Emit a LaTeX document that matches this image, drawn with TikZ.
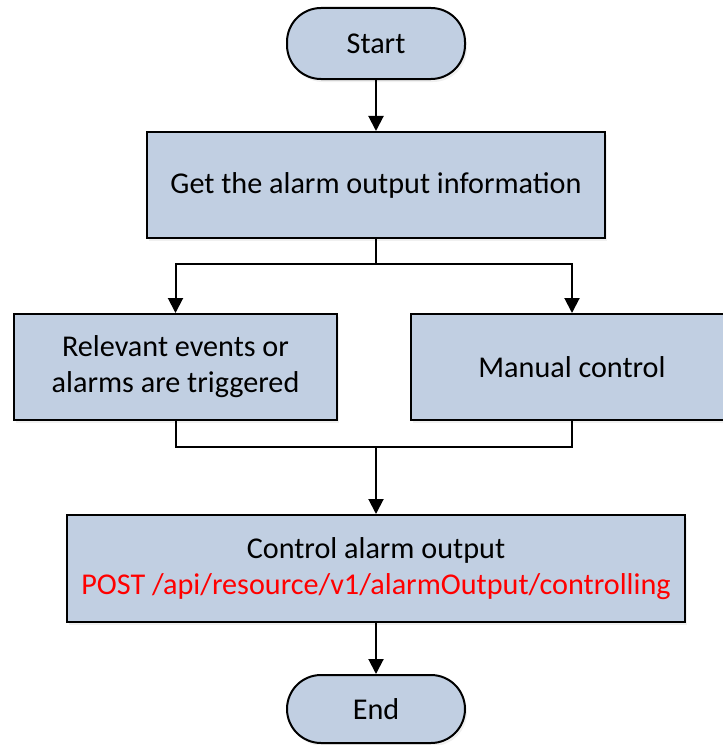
\documentclass[tikz,border=0pt]{standalone}
\usepackage{fontspec}
\setmainfont{Carlito}
\usetikzlibrary{arrows.meta,shadows}
\definecolor{boxfill}{RGB}{193,207,226}
\definecolor{postred}{RGB}{255,0,0}
\begin{document}
\begin{tikzpicture}[x=1bp,y=-1bp,
  every node/.style={font=\fontsize{30.3}{36}\selectfont},
  procbox/.style={draw=black, line width=2bp, fill=boxfill, align=center, inner sep=0pt,
    drop shadow={opacity=0.12, shadow xshift=2bp, shadow yshift=-3bp}},
  termbox/.style={procbox, rounded corners=34bp},
  link/.style={line width=2bp},
  arr/.style={link, -{Triangle[width=15bp,length=15bp]}}]
\useasboundingbox (0,0) rectangle (723,745);

\node[termbox, minimum width=178bp, minimum height=71bp] (start) at (376,43.5) {Start};
\node[procbox, minimum width=458bp, minimum height=106bp] (get) at (376,185) {Get the alarm output information};
\node[procbox, minimum width=323bp, minimum height=106bp] (events) at (175.5,367) {Relevant events or\\alarms are triggered};
\node[procbox, minimum width=322bp, minimum height=106bp] (manual) at (572,367) {Manual control};
\node[procbox, minimum width=618bp, minimum height=107bp] (ctrl) at (376,568.5) {Control alarm output\\\textcolor{postred}{POST /api/resource/v1/alarmOutput/controlling}};
\node[termbox, minimum width=178bp, minimum height=68bp] (end) at (376,709) {End};

\coordinate (split) at (376,264);
\coordinate (merge) at (376,447);

\draw[arr] (start) -- (get);
\draw[link] (get) -- (split);
\draw[arr] (split) -| (events);
\draw[arr] (split) -| (manual);
\draw[link] (events) |- (merge);
\draw[link] (manual) |- (merge);
\draw[arr] (merge) -- (ctrl);
\draw[arr] (ctrl) -- (end);
\end{tikzpicture}
\end{document}
